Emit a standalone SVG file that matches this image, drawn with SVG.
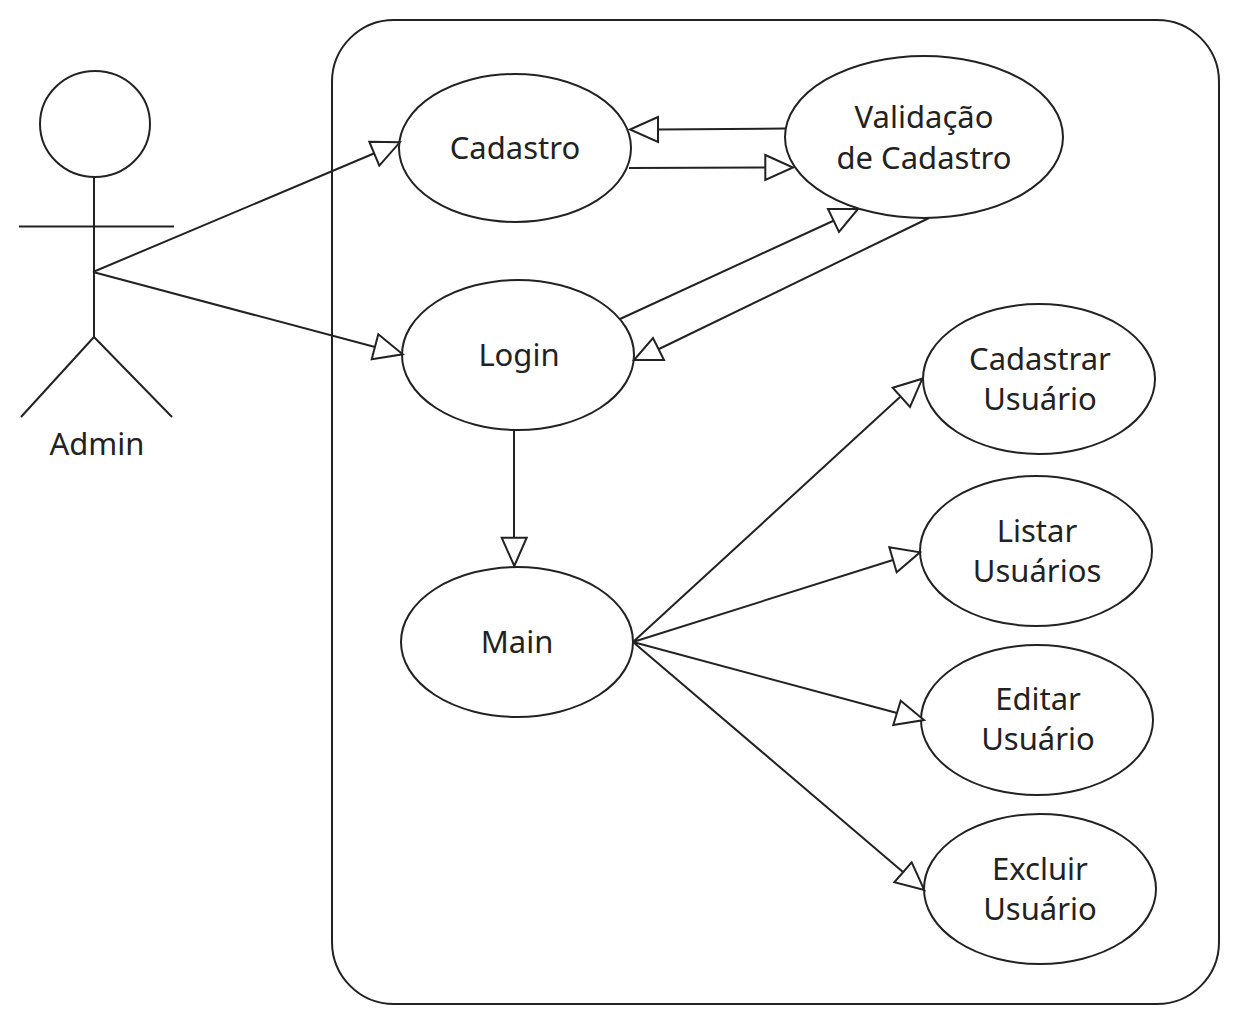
<svg xmlns="http://www.w3.org/2000/svg" width="1238" height="1023" viewBox="0 0 1238 1023">
<style>
.s{fill:none;stroke:#222;stroke-width:2}
.e{fill:#fff;stroke:#222;stroke-width:2}
.h{fill:#fff;stroke:#222;stroke-width:2;stroke-linejoin:miter}
text{font-family:"Noto Sans","Open Sans",sans-serif;font-size:31px;fill:#222;text-anchor:middle}
</style>
<rect width="1238" height="1023" fill="#fff"/>
<rect id="boundary" class="s" x="332" y="20" width="887" height="984" rx="62"/>
<g id="cadastro"><ellipse class="e" cx="515" cy="148" rx="116" ry="74"/><text x="515" y="159">Cadastro</text></g>
<g id="validacao"><ellipse class="e" cx="924" cy="137" rx="139" ry="81"/><text x="924" y="128">Validação</text><text x="924" y="169">de Cadastro</text></g>
<g id="login"><ellipse class="e" cx="518" cy="355" rx="116" ry="75"/><text x="519" y="366">Login</text></g>
<g id="main"><ellipse class="e" cx="517" cy="642" rx="116" ry="75"/><text x="517" y="653">Main</text></g>
<g id="cadastrar"><ellipse class="e" cx="1039" cy="379" rx="116" ry="75"/><text x="1040" y="370">Cadastrar</text><text x="1040" y="410">Usuário</text></g>
<g id="listar"><ellipse class="e" cx="1036" cy="551" rx="116" ry="75"/><text x="1037" y="542">Listar</text><text x="1037" y="582">Usuários</text></g>
<g id="editar"><ellipse class="e" cx="1037" cy="720" rx="116" ry="75"/><text x="1038" y="710">Editar</text><text x="1038" y="750">Usuário</text></g>
<g id="excluir"><ellipse class="e" cx="1040" cy="889" rx="116" ry="75"/><text x="1040" y="880">Excluir</text><text x="1040" y="920">Usuário</text></g>
<g id="admin">
<ellipse class="s" cx="95" cy="124" rx="55" ry="53"/>
<path class="s" d="M94 177V337M19 226.500H174M94 337L21 417M94 337L172 417"/>
<text x="97" y="455">Admin</text>
</g>
<g id="connectors">
<path class="s" d="M93 272L375 153M93 272L375 347M785 128.500L658 129.500M629 168L765 167.500M620 319L834 220.500M929 218L659 349M514 429V538M633 642L900 397M633 642L893 560M633 642L897 713M633 642L903 872"/>
<polygon class="h" points="369.300,141.700 399.800,142.300 379.300,165.700"/>
<polygon class="h" points="378.300,334.300 402.700,354.300 371.700,359.300"/>
<polygon class="h" points="658,117 630,129.500 658,142"/>
<polygon class="h" points="765.300,155 793,167.500 765.300,180"/>
<polygon class="h" points="828,209 858,209 839,232"/>
<polygon class="h" points="634,360 664,360 653,338"/>
<polygon class="h" points="501.700,537.700 526.700,537.700 514.300,566"/>
<polygon class="h" points="892.700,387.700 922.300,378.700 910,407"/>
<polygon class="h" points="889.300,547.300 920,552.300 896.700,572.300"/>
<polygon class="h" points="900.700,700.700 924,720 893.300,725"/>
<polygon class="h" points="911.700,862.300 924.300,890 894.300,882.300"/>
</g>
</svg>
